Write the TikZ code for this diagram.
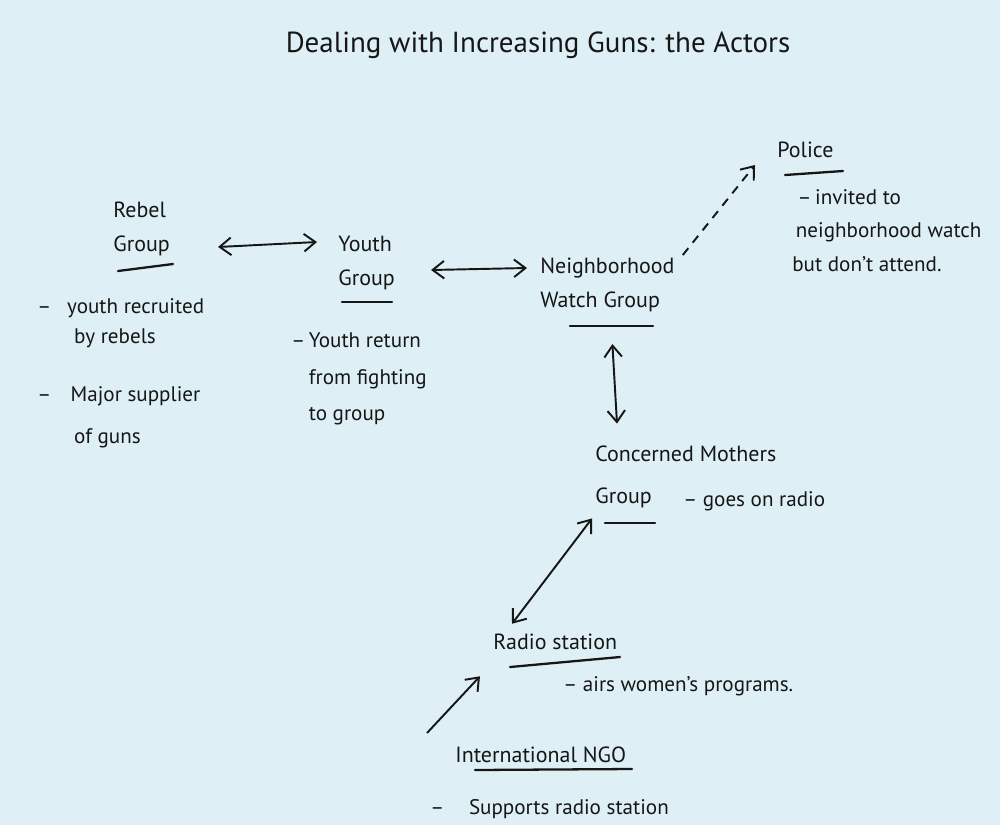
\documentclass[tikz,border=0pt]{standalone}
\usepackage{fontspec}
\setmainfont{PT Sans}
\usetikzlibrary{arrows.meta,calc}
\definecolor{paperblue}{RGB}{222,240,246}
\definecolor{inkblack}{RGB}{22,22,22}
\tikzset{
    % actor names
    actor/.style={font=\fontsize{12.5}{19}\selectfont, align=left,
        inner sep=0pt, text=inkblack},
    % notes under the actors
    note/.style={font=\fontsize{12}{19}\selectfont, align=left,
        inner sep=0pt, text=inkblack},
    % connectors
    link/.style={draw=inkblack, line width=1.1pt,
        {Straight Barb[length=6.5pt,width=10pt]}-{Straight Barb[length=6.5pt,width=10pt]}},
    oneway/.style={draw=inkblack, line width=1.1pt,
        -{Straight Barb[length=6.5pt,width=10pt]}},
    uline/.style={draw=inkblack, line width=1.3pt, line cap=round},
}
\newcommand{\dashmark}[1]{\makebox[#1][l]{--}}

\begin{document}
\begin{tikzpicture}[x=0.02cm,y=-0.02cm]
  % --- paper ---
  \fill[paperblue] (0,0) rectangle (1000,825);
  \useasboundingbox (0,0) rectangle (1000,825);

  \node[font=\fontsize{16.5}{20}\selectfont, text=inkblack] (title) at (538,45)
        {Dealing with Increasing Guns: the Actors};

  % actors
  \node[actor, anchor=west] (rebel) at (113,229) {Rebel\\Group};
  \node[actor, anchor=west] (youth) at (338,263) {Youth\\Group};
  \node[actor, anchor=west] (watch) at (540,285) {Neighborhood\\Watch Group};
  \node[actor, anchor=west] (police) at (777,150) {Police};
  \node[actor, anchor=west] (mothers) at (595,477) {Concerned Mothers\\[5pt]Group};
  \node[actor, anchor=west] (radio) at (493,642) {Radio station};
  \node[actor, anchor=west] (ngo) at (455,755) {International NGO};

  % underlines
  \draw[uline] (118,271) -- (173,264);
  \draw[uline] (342,302) -- (392,302);
  \draw[uline] (570,326) -- (653,326);
  \draw[uline] (785,175) -- (843,171);
  \draw[uline] (605,523) -- (655,523);
  \draw[uline] (510,667) -- (620,657);
  \draw[uline] (475,770) -- (632,769);

  % notes
  \node[note, anchor=north west, font=\fontsize{12}{17}\selectfont] (rebelnote) at (37,298)
        {\dashmark{17pt}youth recruited\\\hspace*{21pt}by rebels\\[16pt]
         \dashmark{19pt}Major supplier\\[7pt]\hspace*{21pt}of guns};
  \node[note, anchor=north west, font=\fontsize{12}{21}\selectfont] (youthnote) at (291,332)
        {\dashmark{10pt}Youth return\\\hspace*{10pt}from fighting\\\hspace*{10pt}to group};
  \node[note, anchor=north west] (policenote) at (792,189)
        {\hspace*{3pt}\dashmark{10pt}invited to\\\hspace*{2pt}neighborhood watch\\but don't attend.};
  \node[note, anchor=west] (mothersnote) at (683,501) {-- goes on radio};
  \node[note, anchor=west] (radionote) at (563,686) {-- airs women's programs.};
  \node[note, anchor=west] (ngonote) at (430,809) {\dashmark{22pt}Supports radio station};

  % connectors
  \draw[link] ($(rebel.east)+(48,18)$) -- ($(youth.west)+(-21,-21)$);
  \draw[link] ($(youth.east)+(36,7)$) -- ($(watch.west)+(-13,-17)$);
  \draw[oneway, dashed, dash pattern=on 5pt off 4pt]
        ($(watch.east)+(8,-30)$) -- ($(police.west)+(-22,15)$);
  \draw[link] ($(watch.south)+(5,32)$) -- ($(mothers.north west)+(22,-22)$);
  \draw[link] ($(mothers.south west)+(-3,10)$) -- ($(radio.north west)+(19,-10)$);
  \draw[oneway] ($(ngo.west)+(-28,-22)$) -- ($(radio.south west)+(-13,26)$);
\end{tikzpicture}
\end{document}
